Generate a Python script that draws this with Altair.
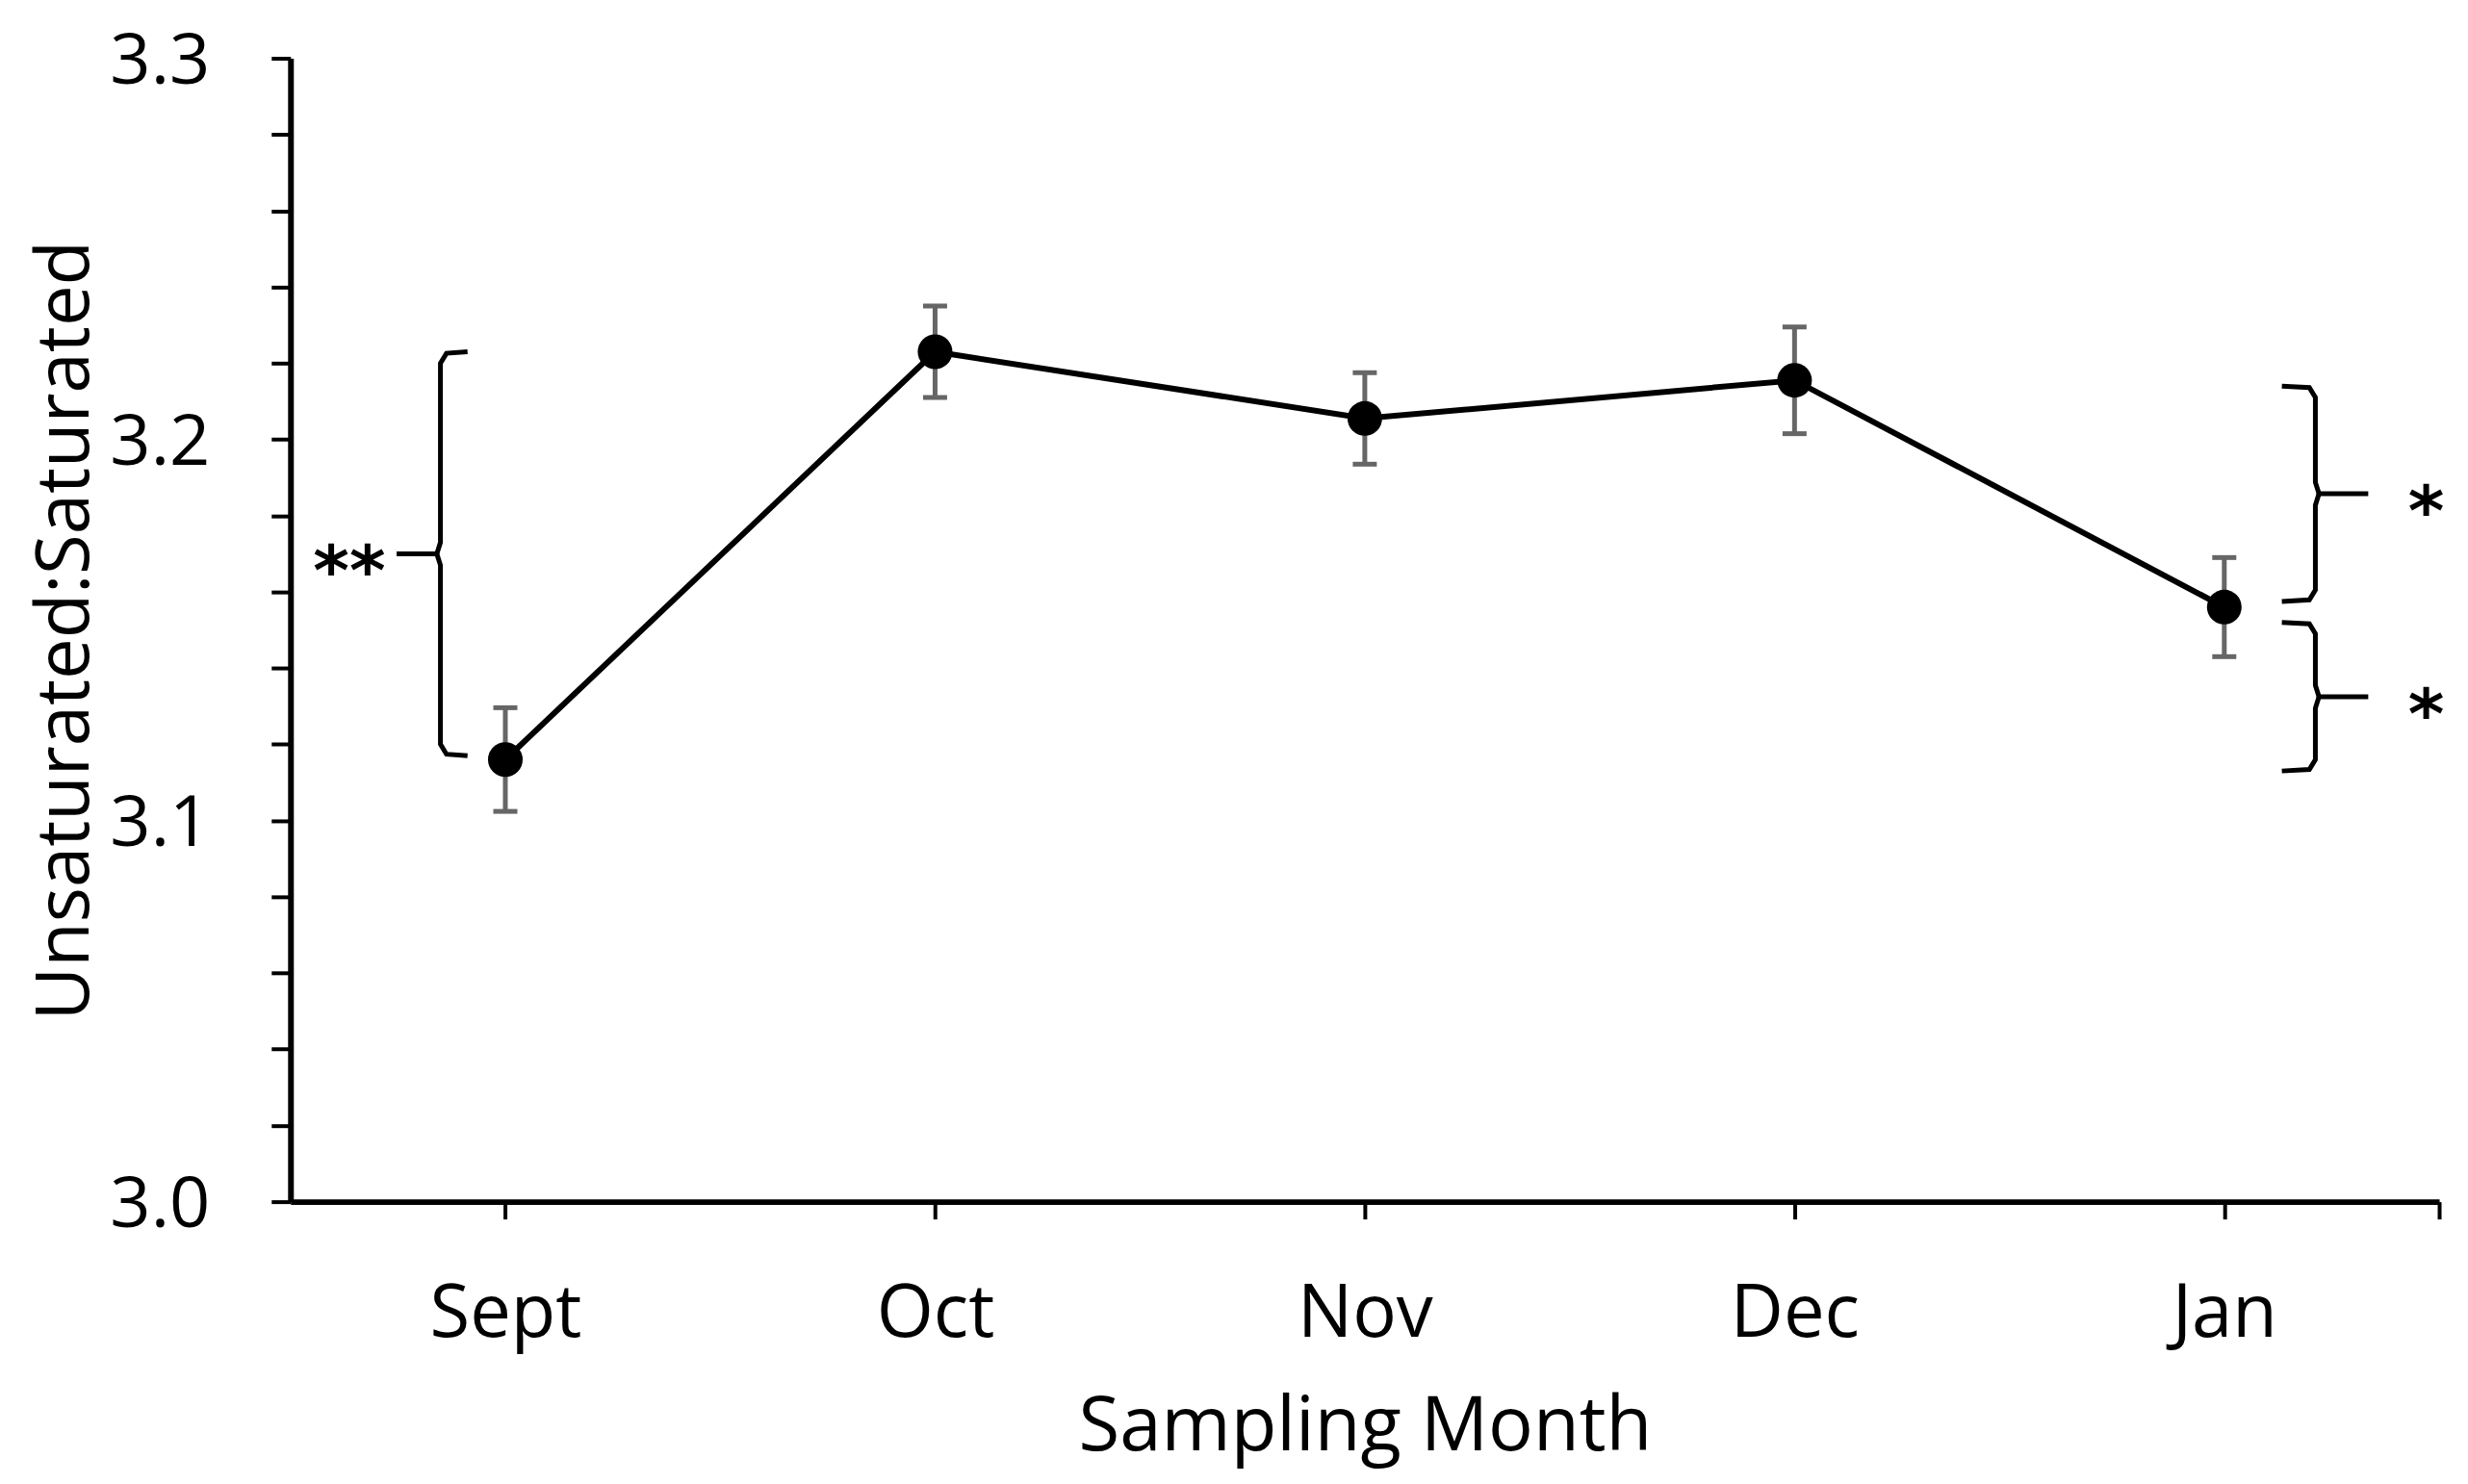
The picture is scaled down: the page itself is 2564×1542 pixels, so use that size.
import altair as alt
import pandas as pd

# ---- data ----
months = ["Sept", "Oct", "Nov", "Dec", "Jan"]
ratio = [3.116, 3.223, 3.2055, 3.2155, 3.156]
sem = [0.0136, 0.012, 0.012, 0.014, 0.013]

# significance braces: top, bottom, label
brace_tops = [3.223, 3.214, 3.152]
brace_bottoms = [3.117, 3.1575, 3.113]
brace_labels = ["**", "*", "*"]
# horizontal layout of each brace (in category-index units): hook, spine, tail, label
brace_hook = [-0.088, 4.134, 4.134]
brace_spine = [-0.151, 4.212, 4.212]
brace_tail = [-0.253, 4.335, 4.335]
brace_text_x = [-0.363, 4.470, 4.470]

y_ticks = [round(3.0 + 0.02 * i, 2) for i in range(16)]

df = pd.DataFrame({
    "idx": list(range(len(months))),
    "month": months,
    "ratio": ratio,
    "lo": [r - s for r, s in zip(ratio, sem)],
    "hi": [r + s for r, s in zip(ratio, sem)],
})

# brace paths
rows = []
for b in range(len(brace_tops)):
    yt, yb = brace_tops[b], brace_bottoms[b]
    ym = (yt + yb) / 2
    xh, xv, xt = brace_hook[b], brace_spine[b], brace_tail[b]
    s = 1 if xv > xh else -1
    dy = 0.003
    dxc = 0.014
    upper = [(xh, yt), (xv - s * dxc, yt - 0.0004), (xv, yt - dy), (xv, ym + dy),
             (xv + s * dxc * 0.6, ym), (xt, ym)]
    lower = [(xh, yb), (xv - s * dxc, yb + 0.0004), (xv, yb + dy), (xv, ym - dy),
             (xv + s * dxc * 0.6, ym)]
    for i, (x, y) in enumerate(upper):
        rows.append({"seg": f"{b}u", "i": i, "bx": x, "by": y})
    for i, (x, y) in enumerate(lower):
        rows.append({"seg": f"{b}l", "i": i, "bx": x, "by": y})
braces = pd.DataFrame(rows)

labels_df = pd.DataFrame({
    "tx": brace_text_x,
    "ty": [(t + b) / 2 for t, b in zip(brace_tops, brace_bottoms)],
    "txt": brace_labels,
})

W, H = 2234, 1189
xscale = alt.Scale(domain=[-0.5, 4.5], nice=False, zero=False)
yscale = alt.Scale(domain=[3.0, 3.3], nice=False, zero=False)

month_arr = "[" + ",".join(f"'{m}'" for m in months) + "]"

x_axis = alt.Axis(
    values=[0, 1, 2, 3, 4, 4.5],
    labelExpr=f"{month_arr}[datum.value] || ''",
    title="Sampling Month",
    grid=False,
    domainColor="black", domainWidth=6,
    tickColor="black", tickWidth=4, tickSize=18,
    labelFont="Open Sans", labelFontSize=76, labelColor="black",
    labelPadding=62, labelFlush=False, labelOverlap=False,
    titleFont="Open Sans", titleFontSize=78, titleFontWeight="normal",
    titleColor="black", titleBaseline="alphabetic",
    titleX=W / 2, titleY=258,
)
y_axis = alt.Axis(
    values=y_ticks,
    labelExpr="abs(datum.value*10 - round(datum.value*10)) < 0.01 ? format(datum.value, '.1f') : ''",
    title="Unsaturated:Saturated",
    grid=False,
    domainColor="black", domainWidth=6,
    tickColor="black", tickWidth=4, tickSize=20,
    labelFont="Open Sans", labelFontSize=74, labelColor="black",
    labelPadding=64, labelOffset=4, labelFlush=False, labelOverlap=False,
    titleFont="Open Sans", titleFontSize=76, titleFontWeight="normal",
    titleColor="black", titleBaseline="alphabetic", titleAngle=-90,
    titleX=-210, titleY=H / 2,
)

base = alt.Chart(df)

line = base.mark_line(color="black", strokeWidth=6).encode(
    x=alt.X("idx:Q", scale=xscale, axis=x_axis),
    y=alt.Y("ratio:Q", scale=yscale, axis=y_axis),
)
err = base.mark_rule(color="#666666", strokeWidth=5).encode(
    x=alt.X("idx:Q", scale=xscale),
    y=alt.Y("lo:Q", scale=yscale),
    y2="hi:Q",
)
cap_lo = base.mark_tick(color="#666666", orient="horizontal", size=25, thickness=5, opacity=1).encode(
    x=alt.X("idx:Q", scale=xscale),
    y=alt.Y("lo:Q", scale=yscale),
)
cap_hi = base.mark_tick(color="#666666", orient="horizontal", size=25, thickness=5, opacity=1).encode(
    x=alt.X("idx:Q", scale=xscale),
    y=alt.Y("hi:Q", scale=yscale),
)
pts = base.mark_point(filled=True, color="black", size=1300, opacity=1, shape="circle").encode(
    x=alt.X("idx:Q", scale=xscale),
    y=alt.Y("ratio:Q", scale=yscale),
)
brace_lines = alt.Chart(braces).mark_line(color="black", strokeWidth=5).encode(
    x=alt.X("bx:Q", scale=xscale),
    y=alt.Y("by:Q", scale=yscale),
    detail="seg:N",
    order=alt.Order("i:Q"),
)
stars = alt.Chart(labels_df).mark_text(
    font="DejaVu Sans", fontSize=72, fontWeight="bold", color="black", baseline="alphabetic",
    align="center", dy=43,
).encode(
    x=alt.X("tx:Q", scale=xscale),
    y=alt.Y("ty:Q", scale=yscale),
    text="txt:N",
)

chart = alt.layer(line, err, cap_lo, cap_hi, pts, brace_lines, stars).properties(
    width=W, height=H,
    padding={"left": 294, "top": 52, "right": 22, "bottom": 285},
    autosize=alt.AutoSizeParams(type="none"),
    background="white",
).configure_view(stroke=None)

chart.save("out.html", embed_options={"renderer": "svg", "actions": False})
